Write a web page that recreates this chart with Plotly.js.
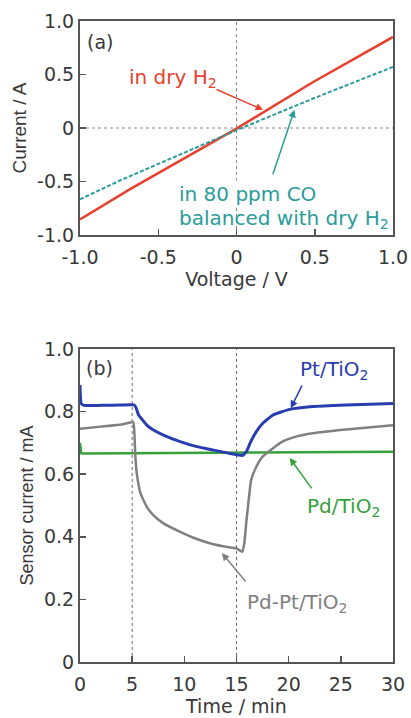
<!DOCTYPE html>
<html>
<head>
<meta charset="utf-8">
<script src="https://cdn.plot.ly/plotly-3.0.1.min.js"></script>
<style>
html,body{margin:0;padding:0;background:#fff;}
#chart{width:411px;height:718px;}
</style>
</head>
<body>
<div id="chart"></div>
<script>
// ---------- Panel (a): I-V curves ----------
const voltageDryH2 = [-1, -0.68, 0, 0.49, 1];
const currentDryH2 = [-0.853, -0.57, -0.005, 0.43, 0.851];
const voltageCO = [-1, -0.745, 0, 0.49, 1];
const currentCO = [-0.666, -0.49, -0.02, 0.276, 0.571];
const voltTickVals = [-1, -0.5, 0, 0.5, 1];
const voltTickText = ['-1.0', '-0.5', '0', '0.5', '1.0'];
const currTickVals = [-1, -0.5, 0, 0.5, 1];
const currTickText = ['-1.0', '-0.5', '0', '0.5', '1.0'];

// ---------- Panel (b): sensor response ----------
const timePt = [0, 0.12, 0.4, 2, 4, 5.2, 5.4, 5.6, 6.0, 6.4, 7.0, 8.0, 9.6, 11.2, 12.8, 14.0, 15.2, 15.6, 16.0, 16.3, 16.9, 17.5, 18.5, 20.1, 22.3, 25.5, 30];
const currentPt = [0.885, 0.825, 0.82, 0.82, 0.821, 0.821, 0.81, 0.79, 0.773, 0.757, 0.742, 0.725, 0.704, 0.688, 0.677, 0.669, 0.661, 0.66, 0.675, 0.699, 0.736, 0.762, 0.789, 0.807, 0.816, 0.821, 0.826];

const timePdPt = [0, 2, 4, 5.1, 5.2, 5.3, 5.45, 5.8, 6.4, 7.0, 8.0, 9.6, 11.2, 12.8, 14.0, 15.0, 15.55, 15.75, 15.95, 16.1, 16.4, 16.9, 17.5, 18.5, 19.4, 20.7, 22.3, 25.5, 30];
const currentPdPt = [0.745, 0.752, 0.759, 0.766, 0.74, 0.66, 0.6, 0.539, 0.496, 0.47, 0.443, 0.416, 0.393, 0.376, 0.368, 0.363, 0.352, 0.38, 0.45, 0.496, 0.581, 0.624, 0.656, 0.683, 0.704, 0.72, 0.731, 0.743, 0.756];

const timePd = [0, 0.12, 0.5, 5, 10, 15, 20, 25, 30];
const currentPd = [0.70, 0.667, 0.666, 0.667, 0.668, 0.668, 0.67, 0.671, 0.672];

const timeTickVals = [0, 5, 10, 15, 20, 25, 30];
const timeTickText = ['0', '5', '10', '15', '20', '25', '30'];
const sensTickVals = [0, 0.2, 0.4, 0.6, 0.8, 1.0];
const sensTickText = ['0', '0.2', '0.4', '0.6', '0.8', '1.0'];
const coInTime = 5, coOutTime = 15;

const FONT_H = 'DejaVu Sans, Arial, sans-serif';
const FONT_V = 'Liberation Sans, Arial, sans-serif';
const TXT = '#383838';
const FRAME = '#555555';
const RED = '#e8402f', TEAL = '#2a9c9a', BLUE = '#2a3db0', GREEN = '#36a23a', GRAY = '#808080';

const traces = [
  {x: voltageDryH2, y: currentDryH2, xaxis: 'x', yaxis: 'y', mode: 'lines', line: {color: RED, width: 2.5}, hoverinfo: 'skip'},
  {x: voltageCO, y: currentCO, xaxis: 'x', yaxis: 'y', mode: 'lines', line: {color: TEAL, width: 2, dash: '4px,2px'}, hoverinfo: 'skip'},
  {x: timePd, y: currentPd, xaxis: 'x2', yaxis: 'y2', mode: 'lines', line: {color: GREEN, width: 2.5}, hoverinfo: 'skip'},
  {x: timePdPt, y: currentPdPt, xaxis: 'x2', yaxis: 'y2', mode: 'lines', line: {color: GRAY, width: 2.5, shape: 'spline', smoothing: 0.4}, hoverinfo: 'skip'},
  {x: timePt, y: currentPt, xaxis: 'x2', yaxis: 'y2', mode: 'lines', line: {color: BLUE, width: 3, shape: 'spline', smoothing: 0.4}, hoverinfo: 'skip'}
];

function axisBase(extra) {
  return Object.assign({
    showline: true, linecolor: FRAME, linewidth: 2, mirror: true,
    ticks: 'inside', ticklen: 6, tickwidth: 1.5, tickcolor: FRAME,
    showgrid: false, zeroline: false, tickmode: 'array',
    tickfont: {family: FONT_H, size: 19, color: TXT}
  }, extra);
}

const layout = {
  width: 411, height: 718,
  margin: {l: 80, r: 18, t: 21, b: 56},
  paper_bgcolor: '#fff', plot_bgcolor: '#fff',
  showlegend: false,
  xaxis: axisBase({domain: [0, 1], anchor: 'y', range: [-1, 1], tickvals: voltTickVals, ticktext: voltTickText,
    ticklabelstandoff: 4,
    title: {text: 'Voltage / V', font: {family: FONT_H, size: 19, color: TXT}, standoff: 4}}),
  yaxis: axisBase({domain: [0.666, 1], anchor: 'x', range: [-1, 1], tickvals: currTickVals, ticktext: currTickText,
    title: {text: 'Current / A', font: {family: FONT_V, size: 19, color: TXT}, standoff: 5}}),
  xaxis2: axisBase({domain: [0, 1], anchor: 'y2', range: [0, 30], tickvals: timeTickVals, ticktext: timeTickText,
    ticklabelstandoff: 4,
    title: {text: 'Time / min', font: {family: FONT_H, size: 19, color: TXT}, standoff: 6}}),
  yaxis2: axisBase({domain: [0, 0.4883], anchor: 'x2', range: [0, 1], tickvals: sensTickVals, ticktext: sensTickText,
    title: {text: 'Sensor current / mA', font: {family: FONT_V, size: 18, color: TXT}, standoff: 6}}),
  shapes: [
    {type: 'line', xref: 'x', yref: 'y', x0: -1, x1: 1, y0: 0, y1: 0, line: {color: '#b0b0b0', width: 1.5, dash: 'dot'}, layer: 'below'},
    {type: 'line', xref: 'x', yref: 'y', x0: 0, x1: 0, y0: -1, y1: 1, line: {color: '#888', width: 1, dash: 'dot'}, layer: 'below'},
    {type: 'line', xref: 'x2', yref: 'y2', x0: coInTime, x1: coInTime, y0: 0, y1: 1, line: {color: '#666', width: 1, dash: 'dot'}, layer: 'below'},
    {type: 'line', xref: 'x2', yref: 'y2', x0: coOutTime, x1: coOutTime, y0: 0, y1: 1, line: {color: '#666', width: 1, dash: 'dot'}, layer: 'below'}
  ],
  annotations: [
    {xref: 'x', yref: 'y', x: -0.872, y: 0.80, text: '(a)', showarrow: false, font: {family: FONT_H, size: 19, color: TXT}},
    {xref: 'x', yref: 'y', x: -0.406, y: 0.465, text: 'in dry H<sub>2</sub>', showarrow: false, font: {family: FONT_H, size: 20, color: RED}},
    {xref: 'x', yref: 'y', x: 0.17, y: 0.17, text: '', showarrow: true, arrowhead: 2, arrowsize: 1, arrowwidth: 1.5, arrowcolor: RED, ax: -48, ay: -21},
    {xref: 'x', yref: 'y', x: -0.381, y: -0.615, xanchor: 'left', text: 'in 80 ppm CO', showarrow: false, bgcolor: '#fff', font: {family: FONT_H, size: 20, color: TEAL}},
    {xref: 'x', yref: 'y', x: -0.381, y: -0.845, xanchor: 'left', text: 'balanced with dry H<sub>2</sub>', showarrow: false, font: {family: FONT_H, size: 20, color: TEAL}},
    {xref: 'x', yref: 'y', x: 0.37, y: 0.17, text: '', showarrow: true, arrowhead: 2, arrowsize: 1, arrowwidth: 1.5, arrowcolor: TEAL, ax: -22, ay: 66},

    {xref: 'x2', yref: 'y2', x: -0.11, y: 1.118, xanchor: 'left', text: '80 ppm CO', showarrow: false, font: {family: FONT_H, size: 19, color: TXT}},
    {xref: 'x2', yref: 'y2', x: coInTime, y: 1.045, text: 'in', showarrow: false, font: {family: FONT_H, size: 19, color: TXT}},
    {xref: 'x2', yref: 'y2', x: coOutTime, y: 1.045, text: 'out', showarrow: false, font: {family: FONT_H, size: 19, color: TXT}},
    {xref: 'x2', yref: 'y2', x: 1.9, y: 0.94, text: '(b)', showarrow: false, font: {family: FONT_H, size: 19, color: TXT}},
    {xref: 'x2', yref: 'y2', x: 24.36, y: 0.933, text: 'Pt/TiO<sub>2</sub>', showarrow: false, font: {family: FONT_H, size: 20, color: BLUE}},
    {xref: 'x2', yref: 'y2', x: 20.2, y: 0.811, text: '', showarrow: true, arrowhead: 2, arrowsize: 1, arrowwidth: 1.5, arrowcolor: BLUE, ax: 12, ay: -24},
    {xref: 'x2', yref: 'y2', x: 25.3, y: 0.495, text: 'Pd/TiO<sub>2</sub>', showarrow: false, font: {family: FONT_H, size: 20, color: GREEN}},
    {xref: 'x2', yref: 'y2', x: 20.1, y: 0.652, text: '', showarrow: true, arrowhead: 2, arrowsize: 1, arrowwidth: 1.5, arrowcolor: GREEN, ax: 23, ay: 32},
    {xref: 'x2', yref: 'y2', x: 20.8, y: 0.188, text: 'Pd-Pt/TiO<sub>2</sub>', showarrow: false, font: {family: FONT_H, size: 20, color: GRAY}},
    {xref: 'x2', yref: 'y2', x: 13.6, y: 0.348, text: '', showarrow: true, arrowhead: 2, arrowsize: 1, arrowwidth: 1.5, arrowcolor: GRAY, ax: 25, ay: 30}
  ]
};

Plotly.newPlot('chart', traces, layout, {staticPlot: true, displayModeBar: false});
</script>
</body>
</html>
